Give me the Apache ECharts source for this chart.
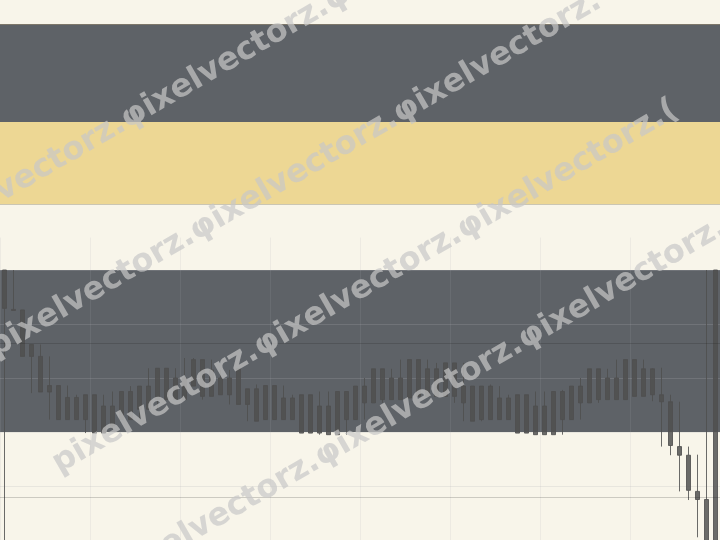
<!DOCTYPE html>
<html>
<head>
<meta charset="utf-8">
<script src="https://cdn.jsdelivr.net/npm/echarts@6/dist/echarts.min.js"></script>
<style>
html,body{margin:0;padding:0;background:#f8f5ea;}
#chart{width:720px;height:540px;}
</style>
</head>
<body>
<div id="chart"></div>
<script>
// ---- data ----
const categories = Array.from({length: 80}, (_, i) => 'T' + (i + 1));
const opens  = [120,112.7,112.6,104.0,104.0,97.4,98.6,92.3,96.4,92.3, 96.9,89.8,94.8,92.3,97.5,94.2,98.5,96.0,101.8,96.0, 100.0,98.5,103.4,96.6,100.0,96.9,101.7,95.1,98.0,92.3, 98.6,92.3,96.3,89.8,96.9,89.8,94.8,89.5,97.5,92.3, 98.5,95.4,101.7,96.0,100.0,96.3,103.4,96.6,101.7,96.6, 102.8,95.4,98.5,92.3,98.5,92.3,96.3,89.8,96.9,89.5, 94.8,89.5,97.5,92.3,98.5,95.4,101.7,96.0,100.0,96.0, 103.4,96.6,101.7,96.9,95.6,87.3,85.7,79.0,77.5,120];
const closes = [112.9,112.5,104.0,106.2,97.4,98.6,92.3,96.4,92.3,96.9, 89.8,94.8,91.1,97.5,92.3,98.5,94.2,101.8,96.0,100.0, 96.0,103.4,96.6,101.5,96.9,100.0,95.1,98.0,92.0,98.6, 92.3,96.3,92.3,96.9,89.8,94.8,89.5,97.5,92.3,98.5, 95.4,101.7,96.0,100.0,96.0,103.4,96.6,101.7,96.6,102.8, 96.6,98.5,92.0,98.5,92.3,96.3,92.3,96.9,89.8,94.8, 89.5,97.5,92.3,98.5,95.4,101.7,96.0,100.0,96.0,103.4, 96.6,101.7,96.9,95.6,87.5,85.7,79.2,77.5,66,62];
const lows   = [64,112.5,104.0,97.2,97.4,92.3,92.3,92.3,92.3,89.8, 89.8,89.8,90.5,92.3,92.3,92.3,94.2,94.2,96.0,96.0, 96.0,98.5,96.0,96.6,96.9,95.1,95.1,92.0,92.0,92.3, 92.3,92.3,92.3,89.8,89.8,89.5,89.5,89.5,89.5,92.3, 92.3,95.4,95.4,96.0,96.0,96.3,96.6,96.6,96.6,96.6, 95.4,92.0,92.0,92.0,92.3,92.3,92.3,89.8,89.8,89.5, 89.5,89.5,89.5,92.3,92.3,95.4,95.4,96.0,96.0,96.0, 96.6,96.6,95.7,87.3,85.7,79.0,77.4,70.5,62,62];
const highs  = [120,120,112.6,106.2,106.2,104.0,98.6,98.6,96.9,96.9, 96.9,96.9,97.5,97.5,98.5,98.5,101.8,101.8,101.8,101.8, 103.7,103.7,103.4,103.4,101.5,101.5,101.7,98.0,98.8,98.6, 98.6,98.6,96.9,96.9,96.9,97.5,97.5,97.5,97.5,98.5, 100.0,101.7,101.7,101.7,103.4,103.4,103.4,103.4,102.8,102.8, 102.8,102.8,98.5,98.5,98.8,98.5,96.9,96.9,96.9,97.5, 97.5,97.5,97.8,98.5,100.0,101.7,101.7,101.7,103.4,103.4, 103.4,103.4,101.8,101.9,96.9,95.6,87.3,85.8,120,120];
const bandRange = [90, 120];          // shaded price zone
const refLevels = [106.5, 77.9];      // horizontal reference lines
const watermarkLines = [
  'pixelvectorz.φixelvectorz.φixelvectorz.',
  'pixelvectorz.φixelvectorz.φixelvectorz.',
  'pixelvectorz.φixelvectorz.φixelvectorz.(',
  'pixelvectorz.φixelvectorz.φixelvectorz.φixelvectorz.'
];

// ---- chart ----
const candleData = categories.map((_, i) => [opens[i], closes[i], lows[i], highs[i]]);
const wmPos = [[-78, 238], [-9, 350], [55, 466], [116, 576]];
const candleCol = 'rgba(79,79,79,0.84)';
const gl = 'rgba(176,176,180,0.22)';

const chart = echarts.init(document.getElementById('chart'), null, {renderer: 'canvas'});
const graphics = [
  {type: 'rect', shape: {x: 0, y: 24, width: 720, height: 98}, style: {fill: '#5e6267'}, z: 0},
  {type: 'rect', shape: {x: 0, y: 122, width: 720, height: 82}, style: {fill: '#edd794'}, z: 0},
  {type: 'line', shape: {x1: 0, y1: 24.5, x2: 720, y2: 24.5}, style: {stroke: '#7d776a', lineWidth: 1}, z: 1},
  {type: 'line', shape: {x1: 0, y1: 204.5, x2: 720, y2: 204.5}, style: {stroke: '#cbc6b3', lineWidth: 1}, z: 1}
];
watermarkLines.forEach((t, i) => {
  graphics.push({
    type: 'text', x: wmPos[i][0], y: wmPos[i][1], rotation: Math.PI / 6, z: 100,
    style: {
      text: t, font: 'bold 32px "DejaVu Sans"', fill: 'rgba(200,200,200,0.7)',
      textAlign: 'left', textVerticalAlign: 'middle',
      shadowColor: 'rgba(0,0,0,0.45)', shadowOffsetX: 1, shadowOffsetY: 1.5, shadowBlur: 1
    }
  });
});

chart.setOption({
  backgroundColor: '#f8f5ea',
  animation: false,
  grid: {left: 0, right: 0, top: 237.6, bottom: 0, show: false},
  xAxis: {
    type: 'category', data: categories, boundaryGap: true, z: 2,
    axisLine: {show: false}, axisTick: {show: false}, axisLabel: {show: false},
    splitLine: {show: true, interval: 9, lineStyle: {color: 'rgba(170,170,175,0.14)', width: 1}}
  },
  yAxis: {
    type: 'value', min: 70, max: 126, interval: 10, z: 2,
    axisLine: {show: false}, axisTick: {show: false}, axisLabel: {show: false},
    splitLine: {show: true, lineStyle: {color: [gl, gl, gl, gl, gl, gl, 'rgba(0,0,0,0)'], width: 1}}
  },
  series: [
    {
      type: 'line', data: [], z: 1, silent: true,
      markArea: {silent: true, itemStyle: {color: '#5e6267'}, data: [[{yAxis: bandRange[0]}, {yAxis: bandRange[1]}]]}
    },
    {
      type: 'candlestick', data: candleData, z: 3, barWidth: 4,
      itemStyle: {color: candleCol, color0: candleCol, borderColor: candleCol, borderColor0: candleCol, borderWidth: 1},
      markLine: {
        silent: true, symbol: 'none', label: {show: false},
        lineStyle: {color: 'rgba(30,30,30,0.2)', type: 'solid', width: 1},
        data: refLevels.map(v => ({yAxis: v}))
      }
    }
  ],
  graphic: graphics
});
</script>
</body>
</html>
